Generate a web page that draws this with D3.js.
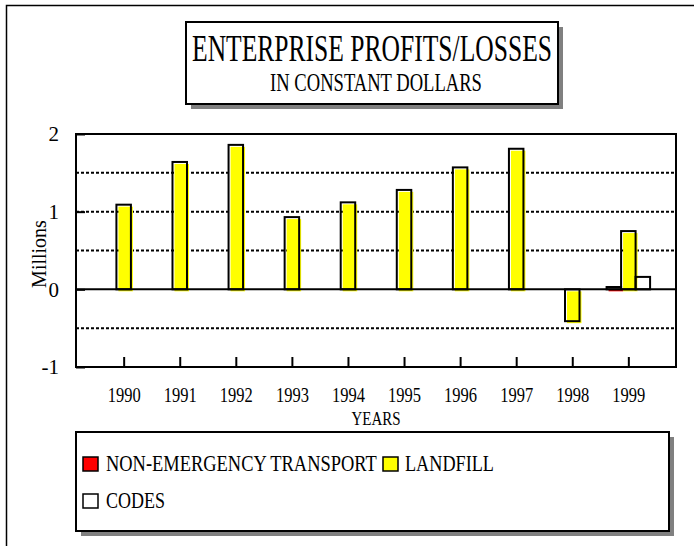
<!DOCTYPE html>
<html>
<head>
<meta charset="utf-8">
<script src="https://cdn.jsdelivr.net/npm/d3@7"></script>
<style>
  html, body { margin: 0; padding: 0; background: #fff; }
  svg { display: block; }
  text { font-family: "Liberation Serif", "Times New Roman", serif; fill: #000; }
</style>
</head>
<body>
<div id="chart"></div>
<script>
// values in millions
const years = ['1990', '1991', '1992', '1993', '1994', '1995', '1996', '1997', '1998', '1999']
const nonEmergency = [0, 0, 0, 0, 0, 0, 0, 0, 0, 0.03]
const landfill = [1.09, 1.64, 1.86, 0.93, 1.12, 1.28, 1.57, 1.81, -0.41, 0.75]
const codes = [0, 0, 0, 0, 0, 0, 0, 0, 0, 0.16]
const yTicks = [-1, 0, 1, 2]
const gridTicks = [-0.5, 0.5, 1, 1.5]

const seriesNames = ['NON-EMERGENCY TRANSPORT', 'LANDFILL', 'CODES']
const seriesColors = ['#ff0000', '#ffff00', '#ffffff']
const series = [nonEmergency, landfill, codes]

const width = 694
const height = 546
const plot = { left: 76, top: 134, right: 676, bottom: 367 }
const barW = 14.5

const svg = d3.select('#chart')
    .append('svg')
    .attr('width', width)
    .attr('height', height)

// outer frame, only top and left are visible
svg.append('path')
    .attr('d', `M6.5,${height} V5.5 H${width}`)
    .attr('fill', 'none')
    .attr('stroke', '#000')
    .attr('stroke-width', 1.5)

// box with a grey drop shadow
function shadowBox(x, y, w, h) {
    svg.append('rect')
        .attr('x', x + 5).attr('y', y + 5)
        .attr('width', w).attr('height', h)
        .attr('fill', '#808080')
    svg.append('rect')
        .attr('x', x).attr('y', y)
        .attr('width', w).attr('height', h)
        .attr('fill', '#fff')
        .attr('stroke', '#000')
        .attr('stroke-width', 2)
}

// condensed text: draw at (0,0) and squeeze horizontally to the width in the picture
function squeezed(parent, str, px, py, size, len, anchor) {
    const t = parent.append('text')
        .attr('text-anchor', anchor)
        .attr('font-size', size)
        .text(str)
    const k = len / t.node().getComputedTextLength()
    t.attr('transform', `translate(${px},${py}) scale(${k},1)`)
    return t
}

// title
shadowBox(186, 22, 372, 82)
squeezed(svg, 'ENTERPRISE PROFITS/LOSSES', 372, 61, 38, 360, 'middle')
squeezed(svg, 'IN CONSTANT DOLLARS', 376, 91, 25, 212, 'middle')

const x = d3.scalePoint()
    .domain(years)
    .range([plot.left, plot.right])
    .padding(0.85)

const y = d3.scaleLinear()
    .domain([-1, 2])
    .range([plot.bottom, plot.top])

// dotted grid
svg.selectAll('.grid')
    .data(gridTicks)
    .enter()
    .append('line')
    .attr('class', 'grid')
    .attr('x1', plot.left).attr('x2', plot.right)
    .attr('y1', d => y(d)).attr('y2', d => y(d))
    .attr('stroke', '#000')
    .attr('stroke-width', 2)
    .attr('stroke-dasharray', '3,2')

// bars: one group per year, landfill centred on the tick
series.forEach((vals, s) => {
    const off = (s - 1) * barW - barW / 2
    const g = svg.append('g')
    // fill is printed a little off the outline
    g.selectAll('.fill' + s)
        .data(vals)
        .enter()
        .append('rect')
        .attr('x', (d, i) => x(years[i]) + off + 2)
        .attr('y', d => Math.min(y(d), y(0)) + 2)
        .attr('width', barW)
        .attr('height', d => Math.abs(y(d) - y(0)))
        .attr('fill', seriesColors[s])
    g.selectAll('.bar' + s)
        .data(vals)
        .enter()
        .append('rect')
        .attr('x', (d, i) => x(years[i]) + off)
        .attr('y', d => Math.min(y(d), y(0)))
        .attr('width', barW)
        .attr('height', d => Math.abs(y(d) - y(0)))
        .attr('fill', 'none')
        .attr('stroke', d => d === 0 ? 'none' : '#000')
        .attr('stroke-width', 2)
})

// zero line
svg.append('line')
    .attr('x1', plot.left).attr('x2', plot.right)
    .attr('y1', y(0)).attr('y2', y(0))
    .attr('stroke', '#000')
    .attr('stroke-width', 2)

// plot frame
svg.append('rect')
    .attr('x', plot.left).attr('y', plot.top)
    .attr('width', plot.right - plot.left)
    .attr('height', plot.bottom - plot.top)
    .attr('fill', 'none')
    .attr('stroke', '#000')
    .attr('stroke-width', 2)

// y axis, ticks point inward
const yAxis = d3.axisLeft(y)
    .tickValues(yTicks)
    .tickSize(-9)
    .tickPadding(17)
    .tickFormat(d => String(d))
svg.append('g')
    .attr('transform', `translate(${plot.left},0)`)
    .call(yAxis)
    .call(g => g.select('.domain').remove())
    .call(g => g.selectAll('line').attr('stroke', '#000').attr('stroke-width', 2))
    .call(g => g.selectAll('text')
        .attr('font-family', '"Liberation Serif", serif')
        .attr('font-size', 21))

// x axis, ticks point up; labels squeezed around their centre
const xAxis = d3.axisBottom(x)
    .tickSize(-10)
    .tickPadding(21)
svg.append('g')
    .attr('transform', `translate(0,${plot.bottom})`)
    .call(xAxis)
    .call(g => g.select('.domain').remove())
    .call(g => g.selectAll('line').attr('stroke', '#000').attr('stroke-width', 2))
    .call(g => g.selectAll('text')
        .attr('font-family', '"Liberation Serif", serif')
        .attr('font-size', 20)
        .each(function () {
            const k = 33 / this.getComputedTextLength()
            d3.select(this).attr('transform', `scale(${k},1)`)
        }))

squeezed(svg, 'YEARS', 376, 425, 19, 49, 'middle')

svg.append('text')
    .attr('transform', `translate(46,254) rotate(-90)`)
    .attr('text-anchor', 'middle')
    .attr('font-size', 20)
    .text('Millions')

// legend
shadowBox(76, 432, 593, 99)
const legendPos = [
    { x: 83, y: 457, tx: 106, tw: 271 },
    { x: 383, y: 457, tx: 405, tw: 89 },
    { x: 83, y: 494, tx: 106, tw: 59 }
]
const legend = svg.selectAll('.legend')
    .data(seriesNames)
    .enter()
    .append('g')
    .attr('class', 'legend')
legend.append('rect')
    .attr('x', (d, i) => legendPos[i].x)
    .attr('y', (d, i) => legendPos[i].y)
    .attr('width', 15).attr('height', 14)
    .attr('fill', (d, i) => seriesColors[i])
    .attr('stroke', '#000')
    .attr('stroke-width', 1.5)
legend.each(function (d, i) {
    const p = legendPos[i]
    squeezed(d3.select(this), d, p.tx, p.y + 14, 23, p.tw, 'start')
})
</script>
</body>
</html>
